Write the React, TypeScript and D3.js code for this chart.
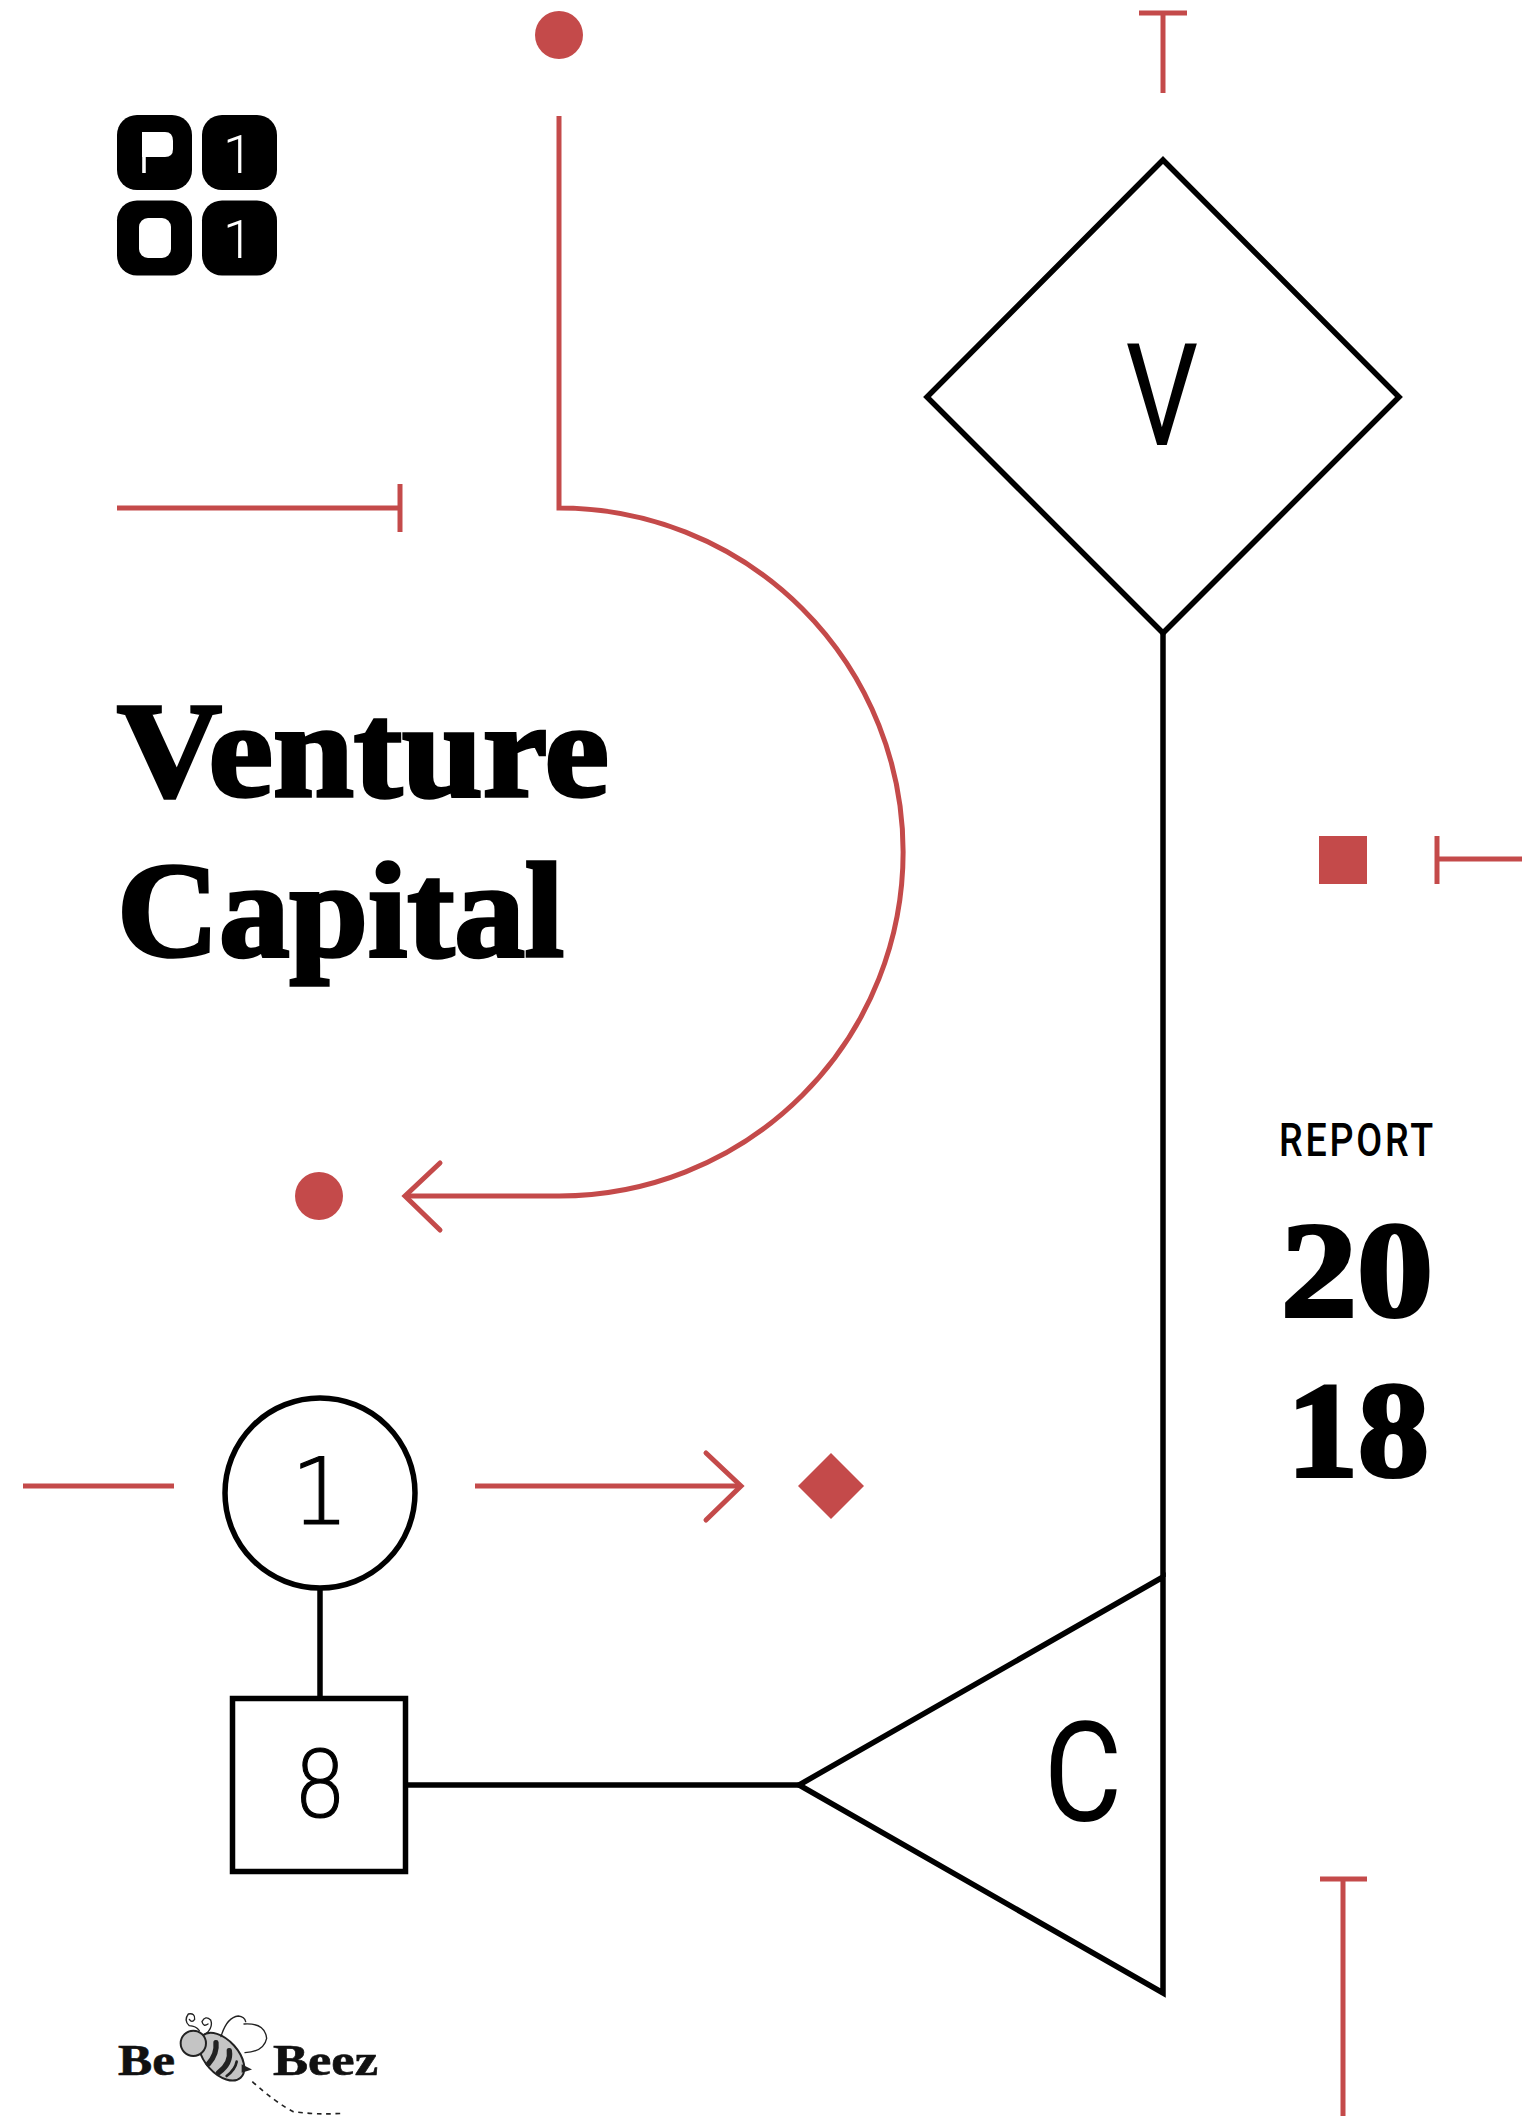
import * as d3 from "d3";

const width = 1522;
const height = 2116;

const RED = "#c44a4a";
const BLACK = "#000";

// text on the sheet
const titleLines = ["Venture", "Capital"];
const yearLines = ["20", "18"];
const reportLabel = "REPORT";
const logoLabels = ["P", "1", "O", "1"];
const brandLabels = ["Be", "Beez"];

const line = d3.line();

// connector: straight down, half circle to the right, back to the arrow
function connectorPath() {
  const p = d3.path();
  p.moveTo(559, 115);
  p.lineTo(559, 507);
  p.arc(559, 851, 344, -Math.PI / 2, Math.PI / 2, false);
  p.lineTo(405, 1195);
  return p.toString();
}

const diamondSymbol = (size: number) =>
  d3.symbol().type(d3.symbolSquare).size(2 * size * size)() as string;

const App = () => {
  const tileX = d3.scalePoint().domain(["0", "1"]).range([117, 202]);
  const tileY = d3.scalePoint().domain(["0", "1"]).range([115, 200.5]);

  return (
    <svg
      width={width}
      height={height}
      viewBox={`0 0 ${width} ${height}`}
      style={{ position: "absolute", left: 0, top: 0, background: "#fff" }}
    >
      {/* red guide marks */}
      <g transform="translate(0,1)">
        <g fill="none" stroke={RED} strokeWidth={5}>
          <path d={connectorPath()} />
          <path d={line([[440, 1162], [405, 1195], [440, 1229]]) as string} strokeLinecap="round" />
          <path d={line([[1163, 92], [1163, 12]]) as string} />
          <path d={line([[1139, 12], [1187, 12]]) as string} />
          <path d={line([[117, 507], [400, 507]]) as string} />
          <path d={line([[400, 483], [400, 531]]) as string} />
          <path d={line([[1522, 858], [1437, 858]]) as string} />
          <path d={line([[1437, 835], [1437, 883]]) as string} />
          <path d={line([[23, 1485], [174, 1485]]) as string} />
          <path d={line([[475, 1485], [741, 1485]]) as string} />
          <path d={line([[706, 1452], [741, 1485], [706, 1519]]) as string} strokeLinecap="round" />
          <path d={line([[1343, 2116], [1343, 1878]]) as string} />
          <path d={line([[1320, 1878], [1367, 1878]]) as string} />
        </g>
        <g fill={RED}>
          <circle cx={559} cy={34} r={24} />
          <circle cx={319} cy={1195} r={24} />
          <rect x={1319} y={835} width={48} height={48} />
          <path d={diamondSymbol(33)} transform="translate(831,1485) rotate(45)" />
        </g>

        {/* black diagram */}
        <g fill="none" stroke={BLACK} strokeWidth={5.5}>
          <path d={line([[1163, 159], [1399, 396], [1163, 632], [927, 396]]) + "Z"} />
          <path d={line([[1163, 632], [1163, 1576]]) as string} />
          <path d={line([[1163, 1576], [799, 1784], [1163, 1992]]) + "Z"} />
          <circle cx={320} cy={1492} r={95} />
          <path d={line([[320, 1587], [320, 1697]]) as string} />
          <rect x={232.5} y={1697.5} width={173} height={173} />
          <path d={line([[406, 1784], [799, 1784]]) as string} />
        </g>
      </g>

      {/* node letters */}
      <g fill={BLACK} fontFamily="Roboto" textAnchor="middle">
        <text transform="translate(1162,445) scale(0.8,1)" fontSize={143}>V</text>
        <text transform="translate(1083,1821) scale(0.86,1)" fontSize={140}>C</text>
      </g>
      <g fill={BLACK} stroke={BLACK} strokeWidth={1.2} fontFamily="DejaVu Sans" fontWeight={200} textAnchor="middle">
        <text x={320} y={1524} fontSize={92}>1</text>
        <text transform="translate(320,1817) scale(0.9,1)" fontSize={92}>8</text>
      </g>

      {/* title */}
      <g
        fontFamily="Liberation Serif"
        fontWeight={700}
        fontSize={136}
        fill={BLACK}
        stroke={BLACK}
        strokeWidth={3.5}
      >
        {titleLines.map((t, i) => (
          <text key={t} x={i === 0 ? 117 : 117} y={796 + i * 160} textLength={i === 0 ? 492 : 447} lengthAdjust="spacingAndGlyphs">
            {t}
          </text>
        ))}
      </g>

      {/* report year */}
      <text
        transform="translate(1279,1156) scale(0.8,1)"
        fontFamily="Roboto"
        fontWeight={500}
        fontSize={47}
        letterSpacing={3.5}
        fill={BLACK}
      >
        {reportLabel}
      </text>
      <g fontFamily="Liberation Serif" fontWeight={700} fontSize={136} fill={BLACK} stroke={BLACK} strokeWidth={4}>
        {yearLines.map((t, i) => (
          <text key={t} x={i === 0 ? 1281 : 1287} y={1316 + i * 160} textLength={i === 0 ? 152 : 142} lengthAdjust="spacingAndGlyphs">
            {t}
          </text>
        ))}
      </g>

      {/* logo tiles */}
      <g>
        {logoLabels.map((t, i) => {
          const col = String(i % 2);
          const row = String(Math.floor(i / 2));
          const x = tileX(col) as number;
          const y = tileY(row) as number;
          return <rect key={i} x={x} y={y} width={75} height={75} rx={20} fill={BLACK} />;
        })}
        <path d="M142 132H165Q173 132 173 141V149Q173 157 165 157H142Z" fill="#fff" />
        <rect x={139} y={218} width={32} height={40} rx={9} fill="#fff" />
        <g fill="#fff" fontFamily="Roboto">
          <text x={137} y={173} fontSize={58} fontWeight={300}>{logoLabels[0]}</text>
          <text x={238} y={173} fontSize={54} fontWeight={300} textAnchor="middle">{logoLabels[1]}</text>
          <text transform="translate(155,256) scale(0.8,1)" fontSize={50} fontWeight={900} textAnchor="middle">{logoLabels[2]}</text>
          <text x={238} y={258} fontSize={54} fontWeight={300} textAnchor="middle">{logoLabels[3]}</text>
        </g>
      </g>

      {/* sponsor mark */}
      <g fontFamily="Liberation Serif" fontWeight={700} fontSize={44} fill="#111" stroke="#111" strokeWidth={0.6}>
        <text x={118} y={2075} textLength={57} lengthAdjust="spacingAndGlyphs">{brandLabels[0]}</text>
        <text x={273} y={2075} textLength={105} lengthAdjust="spacingAndGlyphs">{brandLabels[1]}</text>
      </g>
      <g transform="translate(90,1980) scale(0.3333)" fill="none" stroke="#222" strokeWidth={6} strokeLinecap="round">
        <ellipse cx={395} cy={230} rx={85} ry={50} transform="rotate(48 395 230)" fill="#c4c4c4" />
        <path d="M378 188Q382 222 355 252" strokeWidth={16} />
        <path d="M418 212Q424 250 386 278" strokeWidth={16} />
        <path d="M440 245Q436 268 410 288" strokeWidth={8} />
        <circle cx={310} cy={190} r={38} fill="#c4c4c4" />
        <path d="M458 258L478 268L458 274Z" fill="#222" />
        <path d="M328 152Q318 138 298 137Q280 122 295 102Q316 98 314 118Q306 130 298 118" strokeWidth={4} />
        <path d="M350 160Q370 140 362 120Q346 105 336 125Q340 142 354 132" strokeWidth={4} />
        <path d="M393 170Q410 112 445 108Q464 110 467 125" strokeWidth={4} />
        <path d="M462 132Q525 128 530 175Q522 215 465 218" strokeWidth={4} />
        <path d="M487 305Q560 370 610 395Q680 405 760 400" strokeWidth={5} strokeDasharray="14 14" strokeLinecap="butt" />
      </g>
    </svg>
  );
};

export default App;
